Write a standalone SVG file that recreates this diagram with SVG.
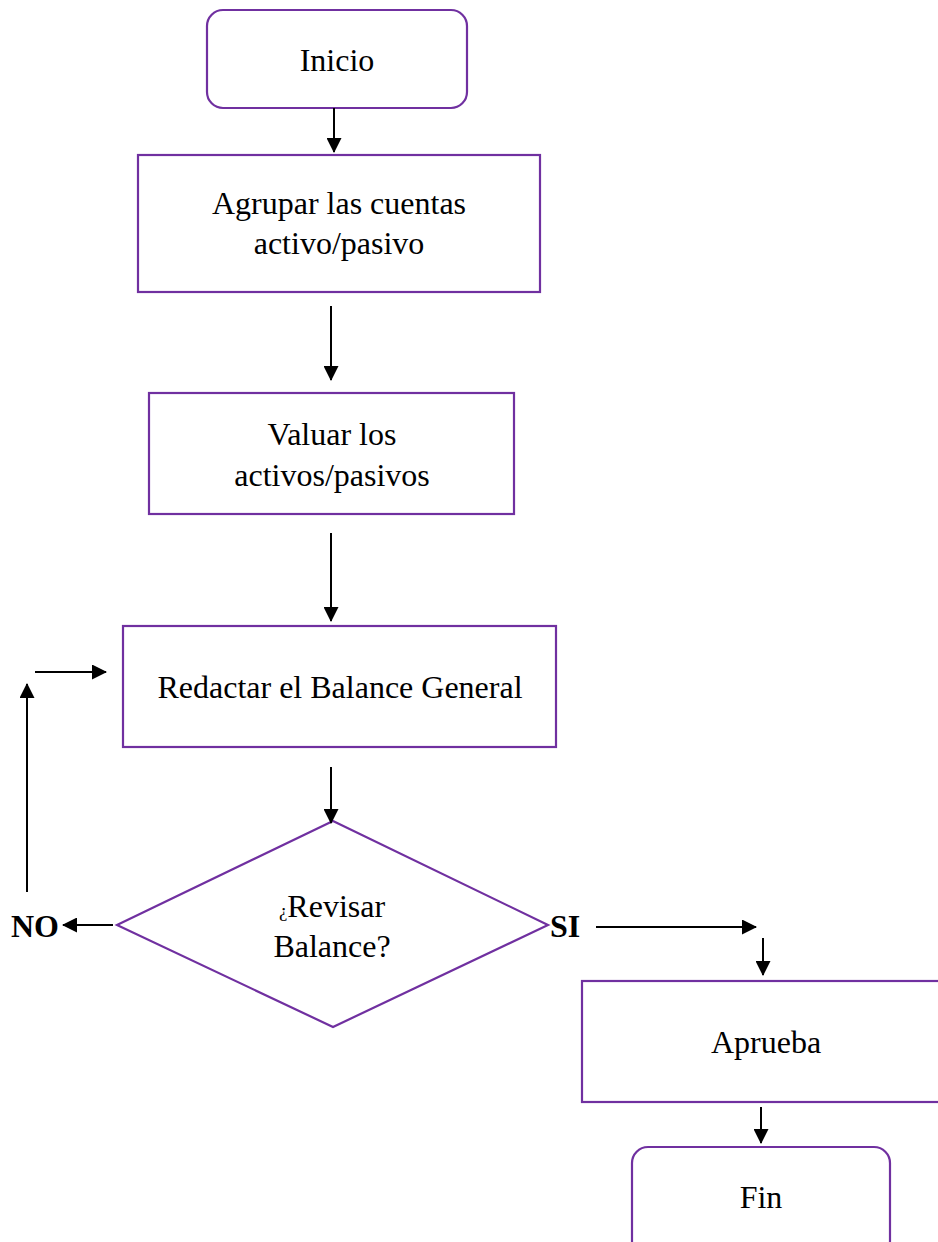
<svg xmlns="http://www.w3.org/2000/svg" width="938" height="1242" viewBox="0 0 938 1242">
<defs>
<marker id="ah" markerUnits="userSpaceOnUse" markerWidth="15" markerHeight="15" refX="14" refY="7.5" orient="auto">
<path d="M0,0 L15,7.5 L0,15 Z" fill="#000"/>
</marker>
<style>
.box{fill:#fff;stroke:#7030A0;stroke-width:2.2}
text{font-family:'Liberation Serif','Times New Roman','DejaVu Serif',serif;font-size:32px;fill:#000}
.t{text-anchor:middle}
.b{font-weight:bold}
.c{stroke:#000;stroke-width:2;fill:none;marker-end:url(#ah)}
</style>
</defs>
<rect width="938" height="1242" fill="#fff"/>
<g id="inicio"><rect class="box" x="207" y="10" width="260" height="98" rx="16"/><text class="t" x="337" y="71">Inicio</text></g>
<g id="agrupar"><rect class="box" x="138" y="155" width="402" height="137"/><text class="t" x="339" y="214">Agrupar las cuentas</text><text class="t" x="339" y="254">activo/pasivo</text></g>
<g id="valuar"><rect class="box" x="149" y="393" width="365" height="121"/><text class="t" x="332" y="445">Valuar los</text><text class="t" x="332" y="486">activos/pasivos</text></g>
<g id="redactar"><rect class="box" x="123" y="626" width="433" height="121"/><text class="t" x="340" y="698">Redactar el Balance General</text></g>
<g id="revisar"><polygon class="box" points="333,821 548,925 333,1027 117,925"/><text class="t" x="332" y="917"><tspan font-size="19">¿</tspan>Revisar</text><text class="t" x="332" y="957">Balance?</text></g>
<g id="no"><text class="b" x="11" y="937">NO</text></g>
<g id="si"><text class="b" x="550" y="937">SI</text></g>
<g id="aprueba"><rect class="box" x="582" y="981" width="370" height="121"/><text class="t" x="766" y="1053">Aprueba</text></g>
<g id="fin"><rect class="box" x="632" y="1147" width="258" height="110" rx="16"/><text class="t" x="761" y="1208">Fin</text></g>
<g id="connectors">
<line class="c" x1="334" y1="108" x2="334" y2="152"/>
<line class="c" x1="331" y1="306" x2="331" y2="380"/>
<line class="c" x1="331" y1="533" x2="331" y2="621"/>
<line class="c" x1="331" y1="767" x2="331" y2="823"/>
<line class="c" x1="113" y1="925" x2="63" y2="925"/>
<line class="c" x1="27" y1="892" x2="27" y2="684"/>
<line class="c" x1="35" y1="672" x2="106" y2="672"/>
<line class="c" x1="596" y1="927" x2="756" y2="927"/>
<line class="c" x1="763" y1="938" x2="763" y2="975"/>
<line class="c" x1="761" y1="1107" x2="761" y2="1143"/>
</g>
</svg>
